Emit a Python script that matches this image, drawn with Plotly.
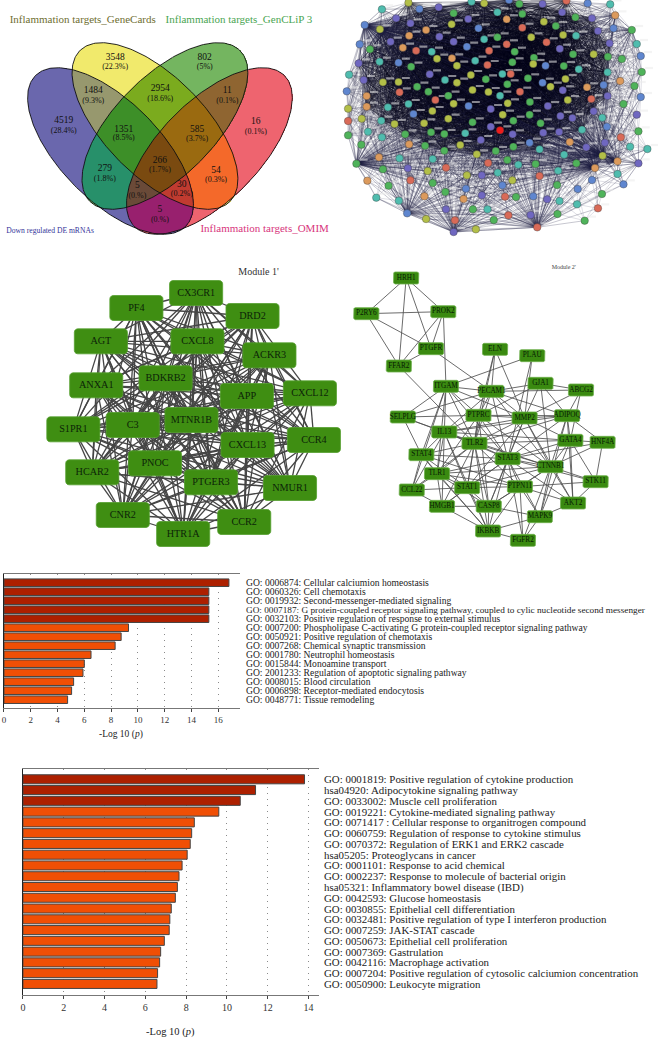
import math
import numpy as np
import plotly.graph_objects as go

W, H = 658, 1039
SERIF = "Liberation Serif"

# ---------------- Venn ----------------
VENN_SETS = ["Down regulated DE mRNAs", "Inflammation targets_GeneCards", "Inflammation targets_GenCLiP 3", "Inflammation targets_OMIM"]
VENN_COUNT = ["4519", "3548", "802", "16", "1484", "2954", "11", "1351", "585", "279", "54", "266", "5", "30", "5"]
VENN_PCT = ["(28.4%)", "(22.3%)", "(5%)", "(0.1%)", "(9.3%)", "(18.6%)", "(0.1%)", "(8.5%)", "(3.7%)", "(1.8%)", "(0.3%)", "(1.7%)", "(0.%)", "(0.2%)", "(0.%)"]
VENN_X = [183, 338, 608, 762, 272, 474, 676, 364, 585, 307, 642, 473, 405, 539, 473]
VENN_Y1 = [362, 172, 172, 366, 273, 266, 273, 388, 388, 507, 511, 483, 558, 555, 630]
VENN_Y2 = [393, 201, 201, 397, 302, 297, 302, 415, 416, 537, 541, 510, 588, 582, 660]
# region colours keyed by membership (blue, yellow, green, red)
VENN_COLORS = {
    (0,0,0,0): "#ffffff", (1,0,0,0): "#6a67ad", (0,1,0,0): "#f1ea6c", (0,0,1,0): "#74b560", (0,0,0,1): "#ee646f",
    (1,1,0,0): "#97986e", (0,1,1,0): "#7bab1e", (0,0,1,1): "#8f6531", (1,1,1,0): "#3d8f28", (0,1,1,1): "#9a6a10",
    (1,0,1,0): "#27906a", (0,1,0,1): "#f4692a", (1,1,1,1): "#7a4a10", (1,0,0,1): "#98206e", (1,0,1,1): "#6a4a38",
    (1,1,0,1): "#c03b30",
}
# ellipses: centre x, centre y, tilt sign
ELL_A, ELL_B = 320, 150
ELLIPSES = [(324, 453, 1), (458, 378, 1), (488, 378, -1), (622, 453, -1)]

def inside(cx, cy, s, X, Y):
    dx, dy = X - cx, Y - cy
    u = (s * dx + dy) * 0.7071
    v = (dx - s * dy) * 0.7071
    return (u / ELL_A) ** 2 + (v / ELL_B) ** 2 <= 1

gx = np.arange(0, 990, 1.5)
gy = np.arange(0, 750, 1.5)
GX, GY = np.meshgrid(gx, gy)
codes = np.zeros_like(GX, dtype=int)
keys = list(VENN_COLORS)
masks = [inside(c[0], c[1], c[2], GX, GY) for c in ELLIPSES]
for idx, k in enumerate(keys):
    m = np.ones_like(GX, dtype=bool)
    for flag, mk in zip(k, masks):
        m &= mk if flag else ~mk
    codes[m] = idx
n = len(keys)
venn_scale = []
for i, k in enumerate(keys):
    venn_scale += [[i / n, VENN_COLORS[k]], [(i + 1) / n, VENN_COLORS[k]]]

# ---------------- STRING network (nodes) ----------------
NET_GREEN = [(566,12),(575,42),(735,52),(368,40),(905,90),(676,78),(500,112),(116,148),(552,155),(728,163),(833,170),(875,177),(610,173),(545,187),(700,198),(240,200),(935,216),(592,235),(465,238),(530,253),(913,258),(258,260),(292,275),(352,287),(598,306),(880,312),(597,344),(425,367),(548,362),(630,370),(300,397),(50,406),(925,394),(222,403),(90,434),(282,437),(548,440),(340,452),(495,453),(530,480),(75,491),(615,492),(738,490),(305,549),(680,555),(172,557),(343,576),(556,591),(815,582),(426,628),(681,642),(489,660),(763,662),(155,508),(340,402)]
NET_TEAL = [(152,28),(422,5),(840,13),(500,37),(460,118),(737,107),(920,132),(302,155),(433,182),(145,185),(745,208),(832,217),(53,224),(515,222),(342,240),(508,287),(232,312),(170,322),(150,362),(816,353),(110,395),(755,389),(403,400),(152,412),(627,448),(900,440),(952,447),(701,464),(205,475),(305,477),(563,494),(501,518),(683,512),(862,522),(135,593),(203,602),(470,628),(687,603),(740,613)]
NET_BLUE = [(265,27),(535,0),(772,10),(100,75),(850,85),(443,85),(85,133),(408,140),(932,168),(202,188),(636,248),(820,255),(46,274),(413,318),(247,342),(830,380),(597,428),(785,540),(515,556),(880,553),(405,566),(742,567),(608,589),(228,640),(645,197),(932,291)]
NET_PURPLE = [(323,22),(636,12),(695,37),(785,55),(195,55),(412,57),(238,70),(803,93),(325,110),(178,125),(368,125),(838,130),(688,146),(82,190),(296,223),(97,240),(697,271),(832,288),(652,318),(480,327),(790,334),(920,344),(690,348),(726,354),(480,380),(546,403),(638,398),(686,396),(450,420),(824,428),(768,442),(925,490),(230,505),(453,526),(453,586),(650,598),(345,628),(600,645),(368,696)]
NET_OLIVE = [(232,8),(460,10),(640,65),(362,73),(146,88),(602,112),(698,105),(790,163),(318,176),(378,197),(608,192),(420,225),(378,248),(155,247),(202,246),(705,237),(660,260),(425,270),(473,276),(712,300),(368,311),(531,310),(50,326),(304,333),(516,344),(352,356),(91,356),(279,370),(190,372),(388,435),(438,463),(817,467),(290,513),(408,526),(545,541),(285,657),(435,688)]
NET_ORANGE = [(855,46),(528,58),(285,90),(234,107),(215,143),(363,175),(870,243),(770,262),(106,288),(106,320),(718,426),(234,433),(143,472),(862,484),(794,504),(108,542),(280,589),(398,597)]
NET_RED = [(708,2),(575,83),(528,133),(648,127),(255,152),(475,152),(470,195),(540,222),(205,277),(568,275),(783,297),(313,300),(50,363),(872,412),(472,489),(345,503),(627,528),(238,541),(523,590),(803,625),(533,646),(372,661),(620,682)]
NET_BRIGHT = [(508,391)]
NET_GROUPS = [
    (NET_GREEN, "#4fb35a"), (NET_TEAL, "#4fbcae"), (NET_BLUE, "#5f86cf"), (NET_PURPLE, "#6f67c0"),
    (NET_OLIVE, "#b3bf48"), (NET_ORANGE, "#dc9a5c"), (NET_RED, "#d96a58"), (NET_BRIGHT, "#ee1c1c"),
]
# hub, reach, lowest and highest y it fans out to
NET_FANS = [((75,491),560,230,620), ((100,75),500,0,420), ((146,88),430,0,380), ((817,467),540,150,560), ((862,484),500,200,560), ((794,504),500,200,640),
            ((620,682),400,300,720), ((228,640),380,300,720), ((368,696),360,320,720), ((905,90),240,40,300), ((855,46),230,0,260), ((925,490),180,360,600)]
all_nodes = [p for g, _ in NET_GROUPS for p in g]

def segs(pairs):
    xs, ys = [], []
    for a, b in pairs:
        xs += [a[0], b[0], None]
        ys += [a[1], b[1], None]
    return xs, ys

def core(p):
    return ((p[0] - 470) / 400) ** 2 + ((p[1] - 210) / 270) ** 2 < 1

dense, middle, sparse, spokes = [], [], [], []
for i, a in enumerate(all_nodes):
    for b in all_nodes[i + 1:]:
        d = math.dist(a, b)
        if core(a) and core(b) and d < 300:
            dense.append((a, b))
        elif (core(a) or core(b)) and d < 210:
            middle.append((a, b))
        elif d < 105:
            sparse.append((a, b))
for h, reach, lo, hi in NET_FANS:
    for b in all_nodes:
        if b != h and math.dist(h, b) < reach and lo <= b[1] <= hi:
            spokes.append((h, b))
label_pairs = [((x + 10, y - 12), (x + 34, y - 12)) for x, y in all_nodes]

# ---------------- Module 1' ----------------
M1_NAMES = ["CX3CR1","PF4","DRD2","AGT","CXCL8","ACKR3","ANXA1","BDKRB2","APP","CXCL12","S1PR1","C3","MTNR1B","CXCL13","CCR4","HCAR2","PNOC","PTGER3","NMUR1","CNR2","CCR2","HTR1A"]
M1_X = [582,402,752,295,586,803,281,490,735,925,212,391,568,737,937,269,458,627,865,361,727,543]
M1_Y = [99,144,168,244,244,286,376,355,408,400,508,495,480,555,540,637,610,667,684,765,786,822]

# ---------------- Module 2' ----------------
M2_POS = {"HRH1":(195,54),"P2RY6":(75,161),"PROK2":(307,155),"PTGFR":(270,266),"FFAR2":(173,318),"ELN":(463,268),"PLAU":(575,287),"GJA1":(600,370),"ABCG2":(722,390),"ITGAM":(315,379),"PECAM1":(452,394),"SELPLG":(185,471),"PTPRC":(413,466),"MMP2":(552,474),"ADIPOQ":(680,467),"IL13":(310,516),"GATA4":(690,541),"HNF4A":(787,547),"TLR2":(401,550),"STAT4":(241,584),"STAT3":(501,596),"CTNNB1":(630,620),"TLR1":(288,641),"STK11":(766,665),"CCL22":(212,690),"STAT1":(379,683),"PTPN11":(538,680),"AKT2":(698,729),"HMGB1":(303,739),"CASP8":(444,739),"MAPK9":(598,770),"IKBKB":(442,813),"FGFR2":(547,841)}
M2_EDGES = """HRH1 P2RY6;HRH1 PROK2;HRH1 PTGFR;HRH1 FFAR2;P2RY6 PROK2;P2RY6 PTGFR;P2RY6 FFAR2;PROK2 PTGFR;PROK2 FFAR2;PROK2 ITGAM;PTGFR FFAR2;PTGFR PECAM1;FFAR2 TLR2;ELN PECAM1;ELN PTPRC;ELN MMP2;ELN TLR2;PLAU ITGAM;PLAU MMP2;PLAU STAT3;GJA1 PECAM1;GJA1 ABCG2;GJA1 MMP2;GJA1 CTNNB1;GJA1 ADIPOQ;GJA1 PTPRC;ABCG2 PECAM1;ABCG2 ADIPOQ;ABCG2 GATA4;ABCG2 MMP2;ITGAM PECAM1;ITGAM SELPLG;ITGAM PTPRC;ITGAM IL13;ITGAM TLR2;ITGAM STAT4;ITGAM TLR1;ITGAM MMP2;ITGAM STAT3;ITGAM CCL22;PECAM1 PTPRC;PECAM1 MMP2;PECAM1 SELPLG;PECAM1 IL13;PECAM1 TLR2;PECAM1 STAT3;PECAM1 CTNNB1;PECAM1 ADIPOQ;SELPLG PTPRC;SELPLG IL13;SELPLG STAT4;SELPLG TLR2;PTPRC MMP2;PTPRC IL13;PTPRC TLR2;PTPRC STAT3;PTPRC STAT1;PTPRC CTNNB1;PTPRC ADIPOQ;PTPRC CASP8;PTPRC TLR1;MMP2 ADIPOQ;MMP2 IL13;MMP2 STAT3;MMP2 CTNNB1;MMP2 TLR2;MMP2 GATA4;MMP2 AKT2;MMP2 CASP8;MMP2 STAT1;ADIPOQ IL13;ADIPOQ GATA4;ADIPOQ STAT3;ADIPOQ CTNNB1;ADIPOQ MAPK9;ADIPOQ HNF4A;ADIPOQ TLR2;ADIPOQ AKT2;IL13 TLR2;IL13 STAT4;IL13 STAT3;IL13 TLR1;IL13 STAT1;IL13 CCL22;IL13 HMGB1;IL13 GATA4;IL13 IKBKB;IL13 CTNNB1;GATA4 HNF4A;GATA4 CTNNB1;GATA4 STAT3;GATA4 MAPK9;GATA4 AKT2;GATA4 STK11;GATA4 TLR2;HNF4A CTNNB1;HNF4A STK11;HNF4A STAT3;TLR2 STAT4;TLR2 STAT3;TLR2 TLR1;TLR2 STAT1;TLR2 CCL22;TLR2 HMGB1;TLR2 CASP8;TLR2 IKBKB;TLR2 CTNNB1;TLR2 PTPN11;STAT4 STAT3;STAT4 TLR1;STAT4 STAT1;STAT4 CCL22;STAT4 PTPN11;STAT4 IKBKB;STAT3 CTNNB1;STAT3 TLR1;STAT3 STAT1;STAT3 PTPN11;STAT3 CASP8;STAT3 STK11;STAT3 AKT2;STAT3 MAPK9;STAT3 HMGB1;STAT3 FGFR2;STAT3 IKBKB;CTNNB1 STK11;CTNNB1 PTPN11;CTNNB1 AKT2;CTNNB1 MAPK9;CTNNB1 STAT1;CTNNB1 CASP8;CTNNB1 FGFR2;CTNNB1 TLR1;TLR1 CCL22;TLR1 STAT1;TLR1 HMGB1;TLR1 PTPN11;TLR1 CASP8;TLR1 IKBKB;STK11 PTPN11;STK11 AKT2;CCL22 STAT1;CCL22 HMGB1;STAT1 PTPN11;STAT1 HMGB1;STAT1 CASP8;STAT1 IKBKB;PTPN11 CASP8;PTPN11 MAPK9;PTPN11 FGFR2;PTPN11 AKT2;PTPN11 IKBKB;AKT2 MAPK9;HMGB1 CASP8;HMGB1 IKBKB;CASP8 IKBKB;CASP8 MAPK9;IKBKB MAPK9;IKBKB FGFR2;MAPK9 FGFR2"""

# ---------------- Bars ----------------
B1_LABELS = ["GO: 0006874: Cellular calciumion homeostasis","GO: 0060326: Cell chemotaxis","GO: 0019932: Second-messenger-mediated signaling","GO: 0007187: G protein-coupled receptor signaling pathway, coupled to cylic nucleotide second messenger","GO: 0032103: Positive regulation of response to external stimulus","GO: 0007200: Phospholipase C-activating G protein-coupled receptor signaling pathway","GO: 0050921: Positive regulation of chemotaxis","GO: 0007268: Chemical synaptic transmission","GO: 0001780: Neutrophil homeostasis","GO: 0015844: Monoamine transport","GO: 2001233: Regulation of apoptotic signaling pathway","GO: 0008015: Blood circulation","GO: 0006898: Receptor-mediated endocytosis","GO: 0048771: Tissue remodeling"]
B1_VALUES = [16.8,15.3,15.3,15.3,15.3,9.3,8.75,8.3,6.5,6.0,5.9,5.2,5.05,4.75]
B1_DARK = 5
B2_LABELS = ["GO: 0001819: Positive regulation of cytokine production","hsa04920: Adipocytokine signaling pathway","GO: 0033002: Muscle cell proliferation","GO: 0019221: Cytokine-mediated signaling pathway","GO: 0071417 : Cellular response to organitrogen compound","GO: 0060759: Regulation of response to cytokine stimulus","GO: 0070372: Regulation of ERK1 and ERK2 cascade","hsa05205: Proteoglycans in cancer","GO: 0001101: Response to acid chemical","GO: 0002237: Response to molecule of bacterial origin","hsa05321: Inflammatory bowel disease (IBD)","GO: 0042593: Glucose homeostasis","GO: 0030855: Epithelial cell differentiation","GO: 0032481: Positive regulation of type I interferon production","GO: 0007259: JAK-STAT cascade","GO: 0050673: Epithelial cell proliferation","GO: 0007369: Gastrulation","GO: 0042116: Macrophage activation","GO: 0007204: Positive regulation of cytosolic calciumion concentration","GO: 0050900: Leukocyte migration"]
B2_VALUES = [13.8,11.4,10.65,9.6,8.4,8.27,8.2,8.05,7.8,7.65,7.57,7.47,7.27,7.2,7.17,6.93,6.75,6.7,6.6,6.57]
B2_DARK = 3

DARK, ORANGE = "#ad2000", "#f04f05"
fig = go.Figure()

def dom_x(a, b): return [a / W, b / W]
def dom_y(a, b): return [1 - b / H, 1 - a / H]

def hidden(px0, px1, rng, is_x=True):
    return dict(visible=False, range=rng, domain=dom_x(px0, px1) if is_x else dom_y(px0, px1), fixedrange=True)

lay = {}
panels = [(1, 0, 330, 0, 250, 990, 750), (2, 330, 658, 0, 250, 984, 750), (3, 0, 345, 260, 560, 1035, 900), (4, 340, 658, 260, 560, 954, 900)]
for k, x0, x1, y0, y1, rx, ry in panels:
    lay[f"xaxis{k}"] = hidden(x0, x1, [0, rx]) | dict(anchor=f"y{k}")
    lay[f"yaxis{k}"] = hidden(y0, y1, [ry, 0], False) | dict(anchor=f"x{k}")

# Venn
fig.add_trace(go.Heatmap(x=gx, y=gy, z=codes, colorscale=venn_scale, zmin=0, zmax=n, showscale=False, hoverinfo="skip", xaxis="x1", yaxis="y1"))
t = np.linspace(0, 2 * np.pi, 240)
for cx, cy, s in ELLIPSES:
    u, v = ELL_A * np.cos(t), ELL_B * np.sin(t)
    fig.add_trace(go.Scatter(x=cx + 0.7071 * (s * u + v), y=cy + 0.7071 * (u - s * v), mode="lines",
                             line=dict(color="#111", width=0.9), xaxis="x1", yaxis="y1", hoverinfo="skip"))
fig.add_trace(go.Scatter(x=VENN_X, y=VENN_Y1, text=VENN_COUNT, mode="text", textfont=dict(family=SERIF, size=9.5, color="#111"), xaxis="x1", yaxis="y1", hoverinfo="skip"))
fig.add_trace(go.Scatter(x=VENN_X, y=VENN_Y2, text=VENN_PCT, mode="text", textfont=dict(family=SERIF, size=8, color="#111"), xaxis="x1", yaxis="y1", hoverinfo="skip"))
VENN_TITLE_X = [10, 20, 490, 595]
VENN_TITLE_Y = [692, 60, 60, 688]
VENN_TITLE_C = ["#34349a", "#6e6e30", "#4aa552", "#d8357c"]
VENN_TITLE_S = [7.6, 11, 11, 11]
for nm, tx, ty, c, sz in zip(VENN_SETS, VENN_TITLE_X, VENN_TITLE_Y, VENN_TITLE_C, VENN_TITLE_S):
    fig.add_trace(go.Scatter(x=[tx], y=[ty], text=[nm], mode="text", textposition="middle right", textfont=dict(family=SERIF, size=sz, color=c), xaxis="x1", yaxis="y1", hoverinfo="skip", cliponaxis=False))

# Network
xs, ys = segs(sparse)
fig.add_trace(go.Scatter(x=xs, y=ys, mode="lines", line=dict(color="rgba(50,50,85,0.38)", width=0.4), xaxis="x2", yaxis="y2", hoverinfo="skip"))
xs, ys = segs(middle)
fig.add_trace(go.Scatter(x=xs, y=ys, mode="lines", line=dict(color="rgba(30,30,60,0.42)", width=0.4), xaxis="x2", yaxis="y2", hoverinfo="skip"))
xs, ys = segs(dense)
fig.add_trace(go.Scatter(x=xs, y=ys, mode="lines", line=dict(color="rgba(8,8,26,0.55)", width=0.55), xaxis="x2", yaxis="y2", hoverinfo="skip"))
xs, ys = segs(spokes)
fig.add_trace(go.Scatter(x=xs, y=ys, mode="lines", line=dict(color="rgba(28,28,62,0.5)", width=0.5), xaxis="x2", yaxis="y2", hoverinfo="skip"))
xs, ys = segs(label_pairs)
fig.add_trace(go.Scatter(x=xs, y=ys, mode="lines", line=dict(color="rgba(235,235,235,0.55)", width=2.2), xaxis="x2", yaxis="y2", hoverinfo="skip"))
for g, c in NET_GROUPS:
    fig.add_trace(go.Scatter(x=[p[0] for p in g], y=[p[1] for p in g], mode="markers",
                             marker=dict(size=7.5, color=c, line=dict(color="rgba(60,60,60,0.75)", width=0.5)),
                             xaxis="x2", yaxis="y2", hoverinfo="skip"))

def round_rect(cx, cy, w, h, r):
    xs, ys = [], []
    for (ax, ay, a0) in [(cx + w/2 - r, cy - h/2 + r, -90), (cx + w/2 - r, cy + h/2 - r, 0), (cx - w/2 + r, cy + h/2 - r, 90), (cx - w/2 + r, cy - h/2 + r, 180)]:
        for d in range(0, 91, 30):
            xs.append(ax + r * math.cos(math.radians(a0 + d)))
            ys.append(ay + r * math.sin(math.radians(a0 + d)))
    xs += [xs[0], None]
    ys += [ys[0], None]
    return xs, ys

def boxes(xl, yl, w, h, r, ax, ay, fill, edge):
    bx, by = [], []
    for x, y in zip(xl, yl):
        a, b = round_rect(x, y, w, h, r)
        bx += a
        by += b
    fig.add_trace(go.Scatter(x=bx, y=by, mode="lines", fill="toself", fillcolor=fill, line=dict(color=edge, width=0.8), xaxis=ax, yaxis=ay, hoverinfo="skip"))

# Module 1: densely connected, all pairs
m1pts = list(zip(M1_X, M1_Y))
xs, ys = segs([(a, b) for i, a in enumerate(m1pts) for b in m1pts[i + 1:]])
fig.add_trace(go.Scatter(x=xs, y=ys, mode="lines", line=dict(color="#454545", width=1.3), xaxis="x3", yaxis="y3", hoverinfo="skip"))
boxes(M1_X, M1_Y, 160, 75, 10, "x3", "y3", "#3f8e12", "#55a030")
fig.add_trace(go.Scatter(x=M1_X, y=M1_Y, text=M1_NAMES, mode="text", textfont=dict(family=SERIF, size=10.2, color="#0c2408"), xaxis="x3", yaxis="y3", hoverinfo="skip"))
fig.add_trace(go.Scatter(x=[770], y=[36], text=["Module 1'"], mode="text", textfont=dict(family=SERIF, size=10, color="#333"), xaxis="x3", yaxis="y3", hoverinfo="skip"))

# Module 2
pairs = [tuple(M2_POS[n] for n in e.split()) for e in M2_EDGES.split(";")]
xs, ys = segs(pairs)
fig.add_trace(go.Scatter(x=xs, y=ys, mode="lines", line=dict(color="#505050", width=0.85), xaxis="x4", yaxis="y4", hoverinfo="skip"))
M2_X = [p[0] for p in M2_POS.values()]
M2_Y = [p[1] for p in M2_POS.values()]
boxes(M2_X, M2_Y, 76, 36, 5, "x4", "y4", "#3a8a10", "#6fb04e")
fig.add_trace(go.Scatter(x=M2_X, y=M2_Y, text=list(M2_POS), mode="text", textfont=dict(family=SERIF, size=7.2, color="#061a04"), xaxis="x4", yaxis="y4", hoverinfo="skip"))
fig.add_trace(go.Scatter(x=[670], y=[22], text=["Module 2'"], mode="text", textfont=dict(family=SERIF, size=6, color="#444"), xaxis="x4", yaxis="y4", hoverinfo="skip"))

# Bars
annots = []
def bar_panel(k, labels, values, dark, x0px, xrightpx, pxunit, ytop, ybot, firsty, step, labelx, labelsize, title_x, title_y, tick_size):
    colors = [DARK if i < dark else ORANGE for i in range(len(values))]
    fig.add_trace(go.Bar(x=values, y=list(range(len(values))), orientation="h", width=0.84, marker=dict(color=colors, line=dict(color="#444", width=1)),
                         xaxis=f"x{k}", yaxis=f"y{k}", hoverinfo="skip"))
    lay[f"xaxis{k}"] = dict(domain=dom_x(x0px, xrightpx), range=[0, (xrightpx - x0px) / pxunit], anchor=f"y{k}", dtick=2, tick0=0, ticks="outside", ticklen=3, tickcolor="#444",
                            tickfont=dict(family=SERIF, size=tick_size, color="#333"), showline=True, linecolor="#777", linewidth=1, mirror=True,
                            showgrid=True, gridcolor="#8a8a8a", griddash="1px,5px", gridwidth=1, zeroline=False, fixedrange=True)
    lay[f"yaxis{k}"] = dict(domain=dom_y(ytop, ybot), range=[(ybot - firsty) / step, (ytop - firsty) / step], anchor=f"x{k}", showticklabels=False, ticks="", showgrid=False,
                            zeroline=False, showline=True, linecolor="#222", linewidth=1, fixedrange=True)
    for i, lab in enumerate(labels):
        size = labelsize - 0.35 if len(lab) > 90 else labelsize
        annots.append(dict(text=lab, x=labelx / W, xref="paper", y=i, yref=f"y{k}", xanchor="left", yanchor="middle", showarrow=False, borderpad=0,
                           font=dict(family=SERIF, size=size, color="#222")))
    annots.append(dict(text="-Log 10 (<i>p</i>)", x=title_x / W, xref="paper", y=1 - title_y / H, yref="paper", xanchor="center", yanchor="middle", showarrow=False,
                       font=dict(family=SERIF, size=tick_size + 0.5, color="#222")))

bar_panel(5, B1_LABELS, B1_VALUES, B1_DARK, 1, 238, 13.45, 574, 708, 582.7, 9.0, 243, 9.6, 119, 734, 9)
bar_panel(6, B2_LABELS, B2_VALUES, B2_DARK, 20, 317, 20.5, 769, 995, 779.3, 10.77, 321, 10.9, 168, 1032, 10)

fig.update_layout(width=W, height=H, margin=dict(l=0, r=0, t=0, b=0, pad=0), showlegend=False, paper_bgcolor="white", plot_bgcolor="white",
                  annotations=annots, barmode="overlay", **lay)
fig.write_html("out.html", config=dict(displayModeBar=False, responsive=False),
               post_script="document.body.style.margin='0';document.body.style.overflow='hidden';document.documentElement.style.overflow='hidden';")
